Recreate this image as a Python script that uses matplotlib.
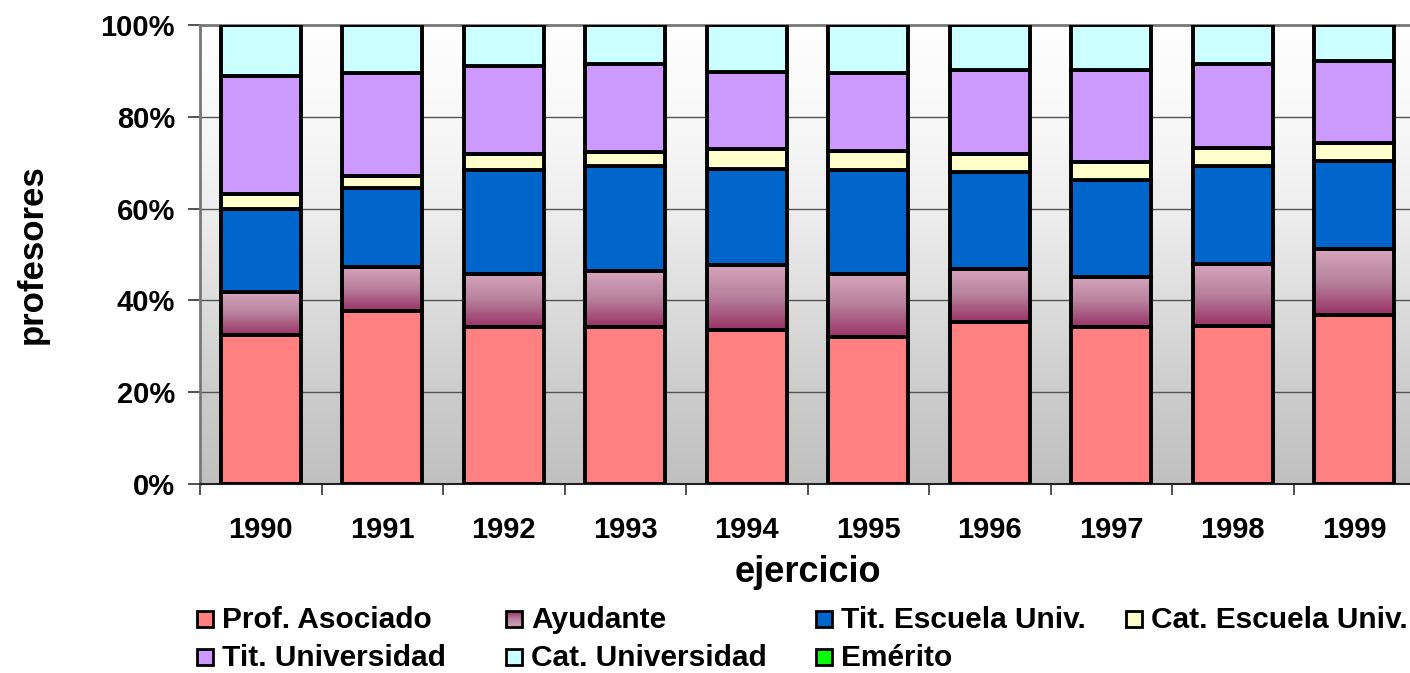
import numpy as np
import matplotlib
matplotlib.use("Agg")
import matplotlib.pyplot as plt
from matplotlib.patches import Rectangle
from matplotlib.colors import LinearSegmentedColormap

plt.rcParams['font.family'] = ['Liberation Sans', 'DejaVu Sans']
plt.rcParams['font.weight'] = 'bold'

years = ['1990', '1991', '1992', '1993', '1994', '1995', '1996', '1997', '1998', '1999']
prof_asociado = [32.5, 37.7, 34.1, 34.1, 33.5, 32.0, 35.3, 34.1, 34.4, 36.8]
ayudante = [9.3, 9.6, 11.7, 12.2, 14.2, 13.8, 11.6, 11.0, 13.6, 14.3]
tit_escuela = [18.2, 17.1, 22.6, 22.9, 21.0, 22.6, 21.1, 21.1, 21.3, 19.2]
cat_escuela = [3.1, 2.7, 3.5, 3.1, 4.3, 4.1, 4.0, 3.9, 4.0, 4.1]
tit_univ = [25.8, 22.5, 19.2, 19.2, 16.8, 17.0, 18.2, 20.2, 18.3, 17.8]
cat_univ = [11.1, 10.4, 8.9, 8.5, 10.2, 10.5, 9.8, 9.7, 8.4, 7.8]
emerito = [0, 0, 0, 0, 0, 0, 0, 0, 0, 0]

labels = ['Prof. Asociado', 'Ayudante', 'Tit. Escuela Univ.', 'Cat. Escuela Univ.',
          'Tit. Universidad', 'Cat. Universidad', 'Emérito']
series = [prof_asociado, ayudante, tit_escuela, cat_escuela, tit_univ, cat_univ, emerito]
colors = ['#ff8080', None, '#0066cc', '#ffffcc', '#cc99ff', '#ccffff', '#00ff00']
ayud_cmap = LinearSegmentedColormap.from_list('ayud', ['#993366', '#b8809c', '#d6a6bc'])

W, H = 1410, 673
fig = plt.figure(figsize=(W / 100, H / 100), dpi=100)
ax = fig.add_axes([200 / W, (H - 484) / H, 1215 / W, 459 / H])

data = np.array(series, dtype=float)
totals = data.sum(axis=0)
pct = data / totals * 100
x = np.arange(len(years))
bw = 0.66

ax.set_xlim(-0.5, len(years) - 0.5)
ax.set_ylim(0, 100)

# background gradient
t = np.linspace(0, 1, 256)
g = np.interp(t, [0, 0.2, 0.4, 0.6, 0.8, 1.0], [254, 248, 238, 221, 204, 192]) / 255
bg = np.dstack([g, g, g]).reshape(256, 1, 3)
ax.imshow(bg, extent=[0, 1, 0, 1], transform=ax.transAxes, aspect='auto', zorder=0)

ax.yaxis.grid(True, color='#555555', linewidth=1.0, zorder=1)
ax.set_axisbelow(True)

bottom = np.zeros(len(years))
for i, (lab, vals) in enumerate(zip(labels, pct)):
    if colors[i] is None:
        bars = ax.bar(x, vals, bw, bottom=bottom, facecolor='none', edgecolor='black',
                      linewidth=2.8, zorder=3, label=lab)
        for b in bars:
            x0 = b.get_x()
            y0 = b.get_y()
            h = b.get_height()
            ax.imshow(np.linspace(0, 1, 128).reshape(128, 1), cmap=ayud_cmap, origin='lower',
                      extent=[x0, x0 + b.get_width(), y0, y0 + h], aspect='auto', zorder=2.5)
    else:
        ax.bar(x, vals, bw, bottom=bottom, color=colors[i], edgecolor='black',
               linewidth=2.8, zorder=3, label=lab)
    bottom += vals

ax.set_xlim(-0.5, len(years) - 0.5)
ax.set_ylim(0, 100)

ax.set_yticks(np.arange(0, 101, 20))
ax.set_yticklabels([f'{v}%' for v in range(0, 101, 20)], fontsize=21, fontweight='bold')
ax.tick_params(axis='y', length=9, width=1.2, color='#333333', pad=9)
ax.set_xticks(x)
ax.set_xticklabels(years, fontsize=21, fontweight='bold')
ax.set_xticks(np.arange(-0.5, len(years), 1), minor=True)
ax.tick_params(axis='x', which='major', length=0, pad=23)
ax.tick_params(axis='x', which='minor', length=8, width=1.2, color='#333333')

for s in ['left', 'top']:
    ax.spines[s].set_color('#777777')
    ax.spines[s].set_linewidth(2)
ax.spines['right'].set_visible(False)
ax.spines['bottom'].set_color('#222222')
ax.spines['bottom'].set_linewidth(1.5)

ax.set_ylabel('profesores', fontsize=25, fontweight='bold', va='center')
ax.yaxis.set_label_coords((32 - 200) / 1215, 0.5)
ax.set_xlabel('ejercicio', fontsize=26, fontweight='bold', va='center')
ax.xaxis.set_label_coords(0.5, -(573 - 484) / 459)

# legend (manual, uniform columns like the original)
lax = fig.add_axes([0, 0, 1, 1])
lax.set_xlim(0, W)
lax.set_ylim(H, 0)
lax.axis('off')
col_x = [197, 506, 816, 1126]
row_y = [619, 657]
sq = 16
for i, lab in enumerate(labels):
    r, c = divmod(i, 4)
    mx, my = col_x[c], row_y[r]
    if colors[i] is None:
        lax.imshow(np.linspace(0, 1, 64).reshape(64, 1), cmap=ayud_cmap, origin='upper',
                   extent=[mx, mx + sq, my + sq / 2, my - sq / 2], aspect='auto', zorder=2)
        lax.add_patch(Rectangle((mx, my - sq / 2), sq, sq, facecolor='none',
                                edgecolor='black', linewidth=2, zorder=3))
    else:
        lax.add_patch(Rectangle((mx, my - sq / 2), sq, sq, facecolor=colors[i],
                                edgecolor='black', linewidth=2, zorder=3))
    lax.text(mx + 25, my + 1, lab, fontsize=21.5, fontweight='bold', va='center', ha='left')
lax.set_xlim(0, W)
lax.set_ylim(H, 0)

fig.savefig('out.png', dpi=100)
